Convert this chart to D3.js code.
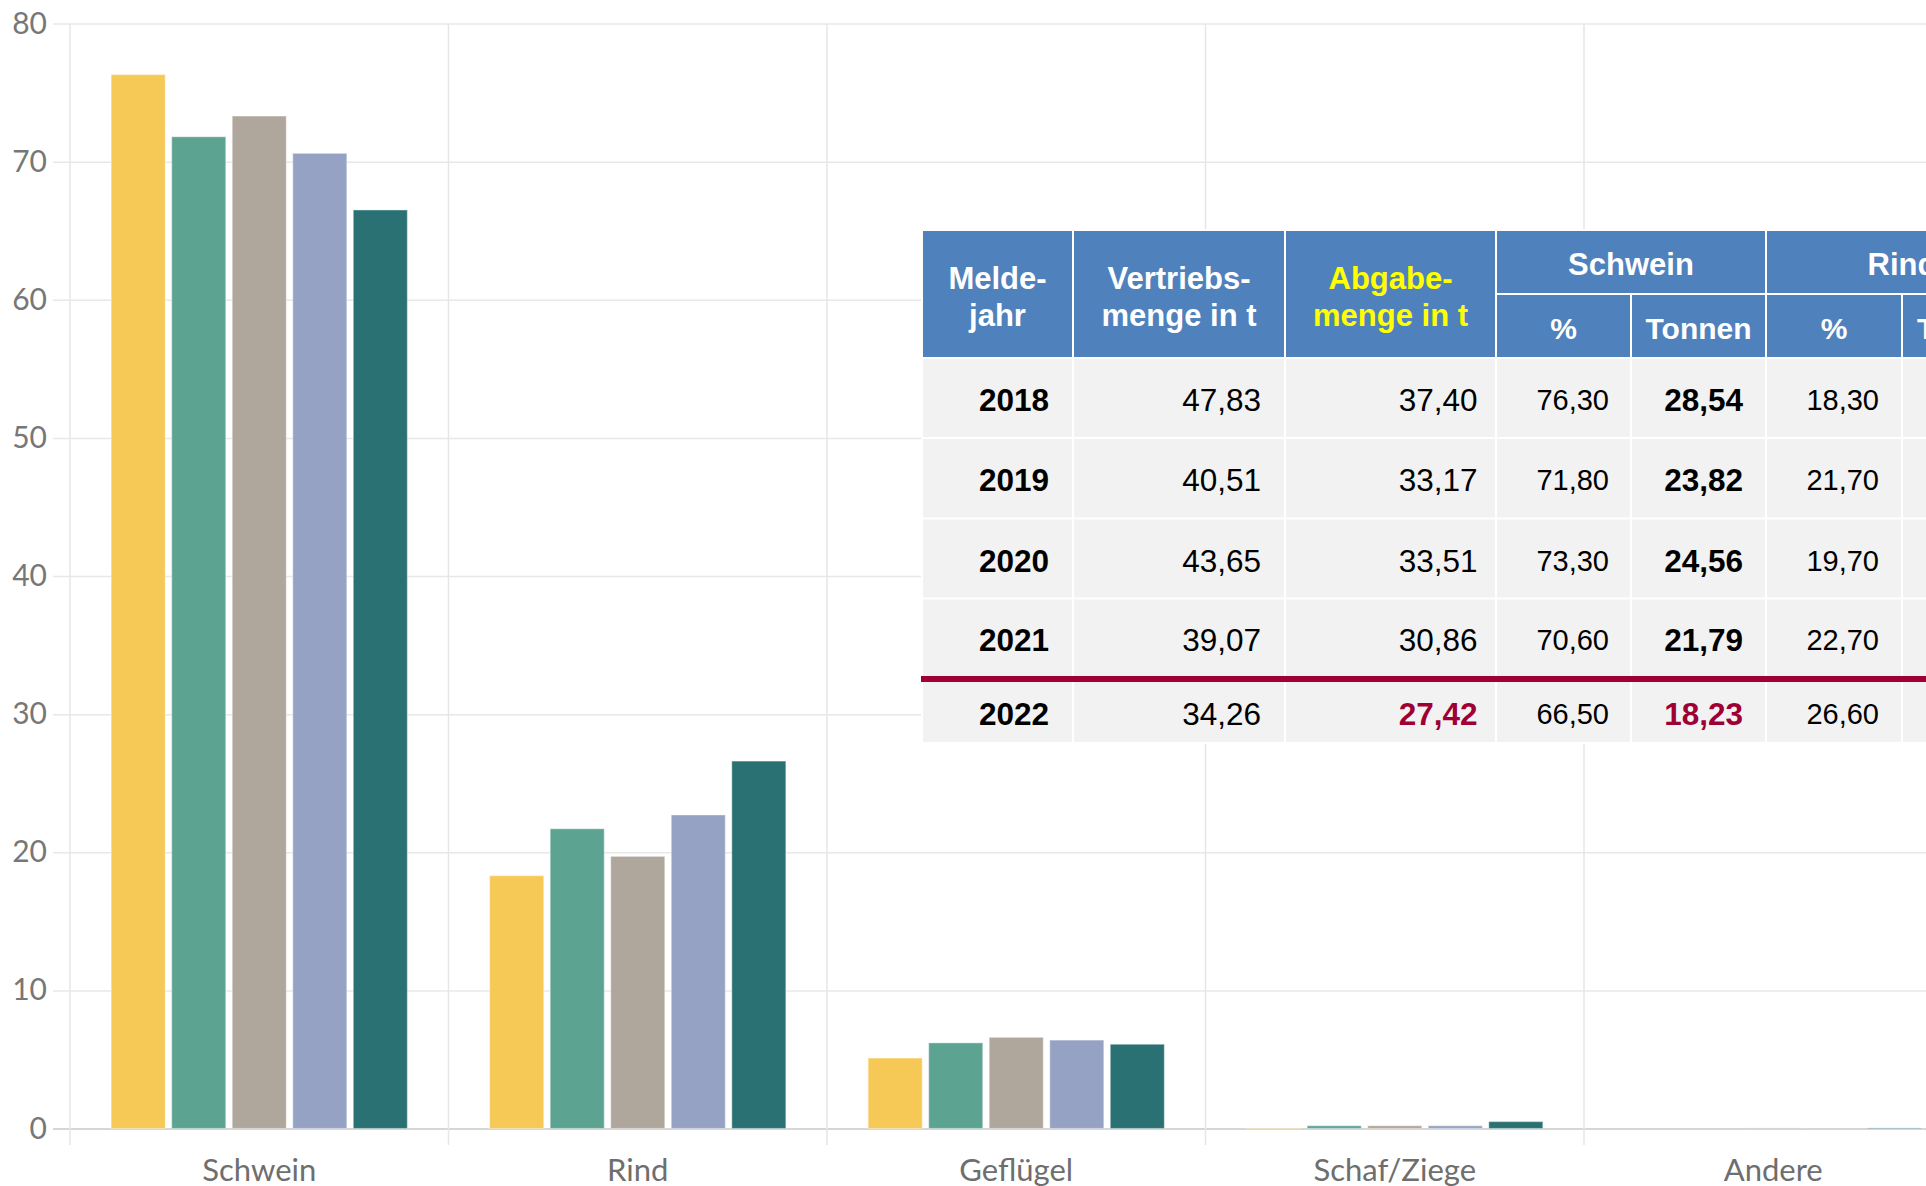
<!DOCTYPE html>
<html>
<head>
<meta charset="utf-8">
<script src="https://cdn.jsdelivr.net/npm/d3@7"></script>
<style>
  body { margin: 0; background: #fff; overflow: hidden; }
  svg { display: block; }
</style>
</head>
<body>
<div id="vis"></div>
<script>
// chart data: share of Abgabemenge per animal type, in %
var categories = ["Schwein", "Rind", "Geflügel", "Schaf/Ziege", "Andere"];
var years = ["2018", "2019", "2020", "2021", "2022"];
var share2018 = [76.3, 18.3, 5.1, 0.03, 0];
var share2019 = [71.8, 21.7, 6.2, 0.2, 0];
var share2020 = [73.3, 19.7, 6.6, 0.2, 0.04];
var share2021 = [70.6, 22.7, 6.4, 0.2, 0];
var share2022 = [66.5, 26.6, 6.1, 0.5, 0.04];
var yTicks = [0, 10, 20, 30, 40, 50, 60, 70, 80];
var colors = ["#f6c855", "#5da392", "#afa79b", "#96a2c3", "#2a7173"];

// table data
var headTop = ["Melde-", "Vertriebs-", "Abgabe-"];
var headBottom = ["jahr", "menge in t", "menge in t"];
var groups = ["Schwein", "Rind"];
var subHeads = ["%", "Tonnen", "%", "Tonnen"];
var vertrieb = [47.83, 40.51, 43.65, 39.07, 34.26];
var abgabe = [37.40, 33.17, 33.51, 30.86, 27.42];
var schweinPct = [76.30, 71.80, 73.30, 70.60, 66.50];
var schweinT = [28.54, 23.82, 24.56, 21.79, 18.23];
var rindPct = [18.30, 21.70, 19.70, 22.70, 26.60];

var shares = [share2018, share2019, share2020, share2021, share2022];

var W = 1926, H = 1186;
var svg = d3.select("#vis").append("svg")
  .attr("width", W).attr("height", H);

// scales
var y = d3.scaleLinear().domain([0, 80]).range([1128.5, 23.5]);
var x0 = d3.scaleBand().domain(categories).range([70, 70 + 5 * 378.5]);
var x1 = d3.scaleBand().domain(years).range([0, x0.bandwidth()])
  .paddingInner(0.107).paddingOuter(0.68);

// y axis with gridlines
var yAxis = svg.append("g")
  .attr("transform", "translate(53,0)")
  .call(d3.axisLeft(y).tickValues(yTicks).tickSize(-(W - 53)).tickPadding(6));
yAxis.select(".domain").remove();
yAxis.selectAll(".tick line")
  .attr("stroke", function(d) { return d === 0 ? "#d6d6d6" : "#e8e8e8"; })
  .attr("stroke-width", function(d) { return d === 0 ? 2 : 1.5; });
yAxis.selectAll(".tick text")
  .attr("fill", "#777")
  .style("font-family", "Lato, 'Open Sans', sans-serif")
  .style("font-size", "30px");

// vertical separators between categories
svg.append("g").selectAll("line")
  .data(categories)
  .enter().append("line")
  .attr("x1", function(d) { return x0(d); })
  .attr("x2", function(d) { return x0(d); })
  .attr("y1", y(80))
  .attr("y2", 1145)
  .attr("stroke", "#e6e6e6")
  .attr("stroke-width", 1.5);

// x axis labels
var xAxis = svg.append("g")
  .attr("transform", "translate(0," + y(0) + ")")
  .call(d3.axisBottom(x0).tickSize(0).tickPadding(30));
xAxis.select(".domain").remove();
xAxis.selectAll(".tick text")
  .attr("fill", "#6e6e6e")
  .style("font-family", "Lato, 'Open Sans', sans-serif")
  .style("font-size", "31px");

// bars
var groupsG = svg.append("g").selectAll("g")
  .data(categories)
  .enter().append("g")
  .attr("transform", function(c) { return "translate(" + x0(c) + ",0)"; });

groupsG.selectAll("rect")
  .data(function(c, ci) {
    return years.map(function(yr, yi) { return {year: yr, i: yi, v: shares[yi][ci]}; });
  })
  .enter().append("rect")
  .attr("x", function(d) { return x1(d.year); })
  .attr("y", function(d) { return y(d.v); })
  .attr("width", x1.bandwidth())
  .attr("height", function(d) { return y(0) - y(d.v); })
  .attr("fill", function(d) { return colors[d.i]; })
  .attr("stroke", "#fff")
  .attr("stroke-opacity", 0.35)
  .attr("stroke-width", 1.2);

// table overlay
var fmt = function(v) { return v.toFixed(2).replace(".", ","); };
var colX = [923, 1074, 1286, 1497, 1632, 1767, 1903];
var colW = [149, 210, 209, 133, 133, 134, 134];
var rowTop = [359, 439, 519.5, 599.5, 682];
var rowBot = [437, 517.5, 597.5, 676, 742];
var pad = [23, 23, 17.5, 21, 22, 22];
var blue = "#4f81bd", cellBg = "#f2f2f2", red = "#9e0034";
var tf = "'Liberation Sans', Arial, sans-serif";

var tbl = svg.append("g");
tbl.append("rect").attr("x", 921).attr("y", 229).attr("width", W - 921).attr("height", 515)
  .attr("fill", "#fff");

// header: first three columns
headTop.forEach(function(t, i) {
  tbl.append("rect").attr("x", colX[i]).attr("y", 231).attr("width", colW[i]).attr("height", 126)
    .attr("fill", blue);
  var c = i === 2 ? "#ffff00" : "#fff";
  tbl.append("text").attr("x", colX[i] + colW[i] / 2).attr("y", 288.5)
    .attr("text-anchor", "middle").attr("fill", c)
    .style("font", "bold 31px " + tf).text(t);
  tbl.append("text").attr("x", colX[i] + colW[i] / 2).attr("y", 326)
    .attr("text-anchor", "middle").attr("fill", c)
    .style("font", "bold 31px " + tf).text(headBottom[i]);
});

// group headers
groups.forEach(function(g, i) {
  var a = 3 + i * 2;
  var gx = colX[a], gw = colX[a + 1] + colW[a + 1] - colX[a];
  tbl.append("rect").attr("x", gx).attr("y", 231).attr("width", gw).attr("height", 62)
    .attr("fill", blue);
  tbl.append("text").attr("x", gx + gw / 2).attr("y", 275)
    .attr("text-anchor", "middle").attr("fill", "#fff")
    .style("font", "bold 31px " + tf).text(g);
});

subHeads.forEach(function(s, i) {
  var k = 3 + i;
  tbl.append("rect").attr("x", colX[k]).attr("y", 295).attr("width", colW[k]).attr("height", 62)
    .attr("fill", blue);
  tbl.append("text").attr("x", colX[k] + colW[k] / 2).attr("y", 339)
    .attr("text-anchor", "middle").attr("fill", "#fff")
    .style("font", "bold 30px " + tf).text(s);
});

// body rows
years.forEach(function(yr, r) {
  var top = rowTop[r], h = rowBot[r] - rowTop[r], mid = top + h / 2;
  var last = r === years.length - 1;
  colX.forEach(function(cx, k) {
    tbl.append("rect").attr("x", cx).attr("y", top).attr("width", colW[k]).attr("height", h)
      .attr("fill", cellBg);
  });
  var cells = [
    {t: yr, w: "bold", s: 31.5, c: "#000"},
    {t: fmt(vertrieb[r]), w: "normal", s: 31.5, c: "#000"},
    {t: fmt(abgabe[r]), w: last ? "bold" : "normal", s: 31.5, c: last ? red : "#000"},
    {t: fmt(schweinPct[r]), w: "normal", s: 29, c: "#000"},
    {t: fmt(schweinT[r]), w: "bold", s: 31.5, c: last ? red : "#000"},
    {t: fmt(rindPct[r]), w: "normal", s: 29, c: "#000"}
  ];
  cells.forEach(function(d, k) {
    tbl.append("text")
      .attr("x", colX[k] + colW[k] - pad[k])
      .attr("y", mid + (d.s > 30 ? 13 : 12))
      .attr("text-anchor", "end")
      .attr("fill", d.c)
      .style("font", d.w + " " + d.s + "px " + tf)
      .text(d.t);
  });
});

// red separator before the latest year
tbl.append("rect").attr("x", 921).attr("y", 676).attr("width", W - 921).attr("height", 6)
  .attr("fill", red);
</script>
</body>
</html>
